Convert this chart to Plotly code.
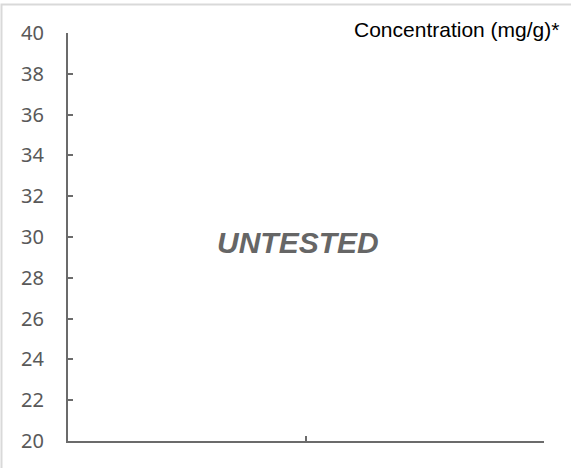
import plotly.graph_objects as go

# Data (chart is empty: no tested values)
y_ticks = [20, 22, 24, 26, 28, 30, 32, 34, 36, 38, 40]
x_ticks = [0, 1, 2]
title_text = "Concentration (mg/g)*"
status_text = "UNTESTED"

W, H = 571, 468
L, R, T, B = 68, 27, 33, 27
pw, ph = W - L - R, H - T - B

def px_x(p):
    return (p - L) / pw

def px_y(p):
    return (H - B - p) / ph

fig = go.Figure()
fig.add_trace(go.Scatter(x=[], y=[], mode="markers", showlegend=False))

axis_col = "#6b6b6b"
fig.update_layout(
    width=W, height=H,
    margin=dict(l=L, r=R, t=T, b=B, autoexpand=False),
    plot_bgcolor="white", paper_bgcolor="white",
    showlegend=False,
    xaxis=dict(range=[0, 2], tickvals=x_ticks, showticklabels=False,
               ticks="inside", ticklen=5, tickwidth=2, tickcolor=axis_col,
               showline=True, linecolor=axis_col, linewidth=2,
               showgrid=False, zeroline=False, fixedrange=True),
    yaxis=dict(range=[20, 40], tickvals=y_ticks,
               ticks="inside", ticklen=5, tickwidth=1.5, tickcolor=axis_col,
               showline=True, linecolor=axis_col, linewidth=2,
               showgrid=False, zeroline=False, ticklabelstandoff=18,
               tickfont=dict(family="Noto Sans, Open Sans, sans-serif", size=20, color="#595959"),
               fixedrange=True),
    annotations=[
        dict(text=title_text, xref="paper", yref="paper",
             x=px_x(561), y=px_y(29), xanchor="right", yanchor="middle",
             showarrow=False,
             font=dict(family="Liberation Sans, Arial, sans-serif", size=21, color="#000000")),
        dict(text="<b><i>" + status_text + "</i></b>", xref="paper", yref="paper",
             x=px_x(298), y=px_y(243), xanchor="center", yanchor="middle",
             showarrow=False,
             font=dict(family="Liberation Sans, Arial, sans-serif", size=30, color="#666666")),
    ],
    shapes=[
        dict(type="rect", xref="paper", yref="paper",
             x0=px_x(1.5), x1=px_x(580), y0=px_y(480), y1=px_y(4.5),
             line=dict(color="#d9d9d9", width=2), fillcolor="rgba(0,0,0,0)", layer="above"),
    ],
)

fig.write_html("out.html", config={"displayModeBar": False},
               post_script="document.body.style.margin='0';")
